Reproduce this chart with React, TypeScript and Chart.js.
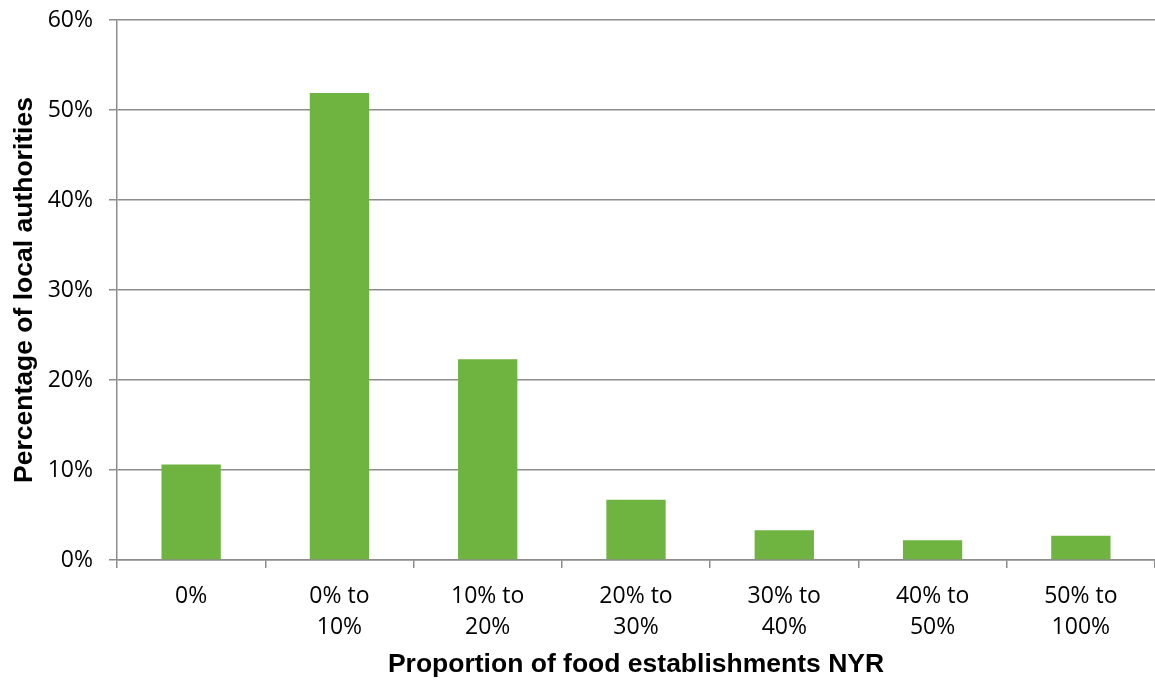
import React, { useEffect, useRef } from "react";
import { Chart, registerables } from "chart.js";

Chart.register(...registerables);

const categories: (string | string[])[] = [
  "0%",
  ["0% to", "10%"],
  ["10% to", "20%"],
  ["20% to", "30%"],
  ["30% to", "40%"],
  ["40% to", "50%"],
  ["50% to", "100%"],
];
const values = [10.6, 51.9, 22.3, 6.7, 3.3, 2.2, 2.7];
const yTicks = [0, 10, 20, 30, 40, 50, 60];
const xTitle = "Proportion of food establishments NYR";
const yTitle = "Percentage of local authorities";

export default function App() {
  const ref = useRef<HTMLCanvasElement | null>(null);
  useEffect(() => {
    if (!ref.current) return;
    const grey = "#8c8c8c";
    const tickFont = { family: "'Open Sans'", size: 23 };
    const titleFont = { family: "'Liberation Sans', Arial", size: 26.5, weight: "bold" as const };
    const chart = new Chart(ref.current, {
      type: "bar",
      data: {
        labels: categories,
        datasets: [
          {
            data: values,
            backgroundColor: "#6fb440",
            barPercentage: 0.4,
            categoryPercentage: 1,
          },
        ],
      },
      options: {
        responsive: false,
        animation: false,
        layout: { padding: { top: 20, right: 0, bottom: 0, left: 0 } },
        plugins: { legend: { display: false }, tooltip: { enabled: false } },
        scales: {
          x: {
            offset: true,
            grid: {
              offset: true,
              drawOnChartArea: false,
              drawTicks: true,
              tickLength: 8,
              color: grey,
              lineWidth: 1.5,
            },
            border: { color: grey, width: 1.5 },
            ticks: {
              color: "#000",
              font: { ...tickFont, lineHeight: 1.35 },
              padding: 13,
              maxRotation: 0,
              autoSkip: false,
            },
            title: {
              display: true,
              text: xTitle,
              color: "#000",
              font: titleFont,
              padding: { top: 0, bottom: 5 },
            },
            afterFit: (s: any) => {
              s.height = 126;
              s.paddingLeft = 0;
              s.paddingRight = 0;
            },
          },
          y: {
            min: yTicks[0],
            max: yTicks[yTicks.length - 1],
            afterBuildTicks: (s: any) => {
              s.ticks = yTicks.map((v) => ({ value: v }));
            },
            grid: { color: grey, lineWidth: 1.5, tickLength: 8 },
            border: { color: grey, width: 1.5 },
            ticks: {
              color: "#000",
              font: tickFont,
              padding: 16,
              callback: (v: any) => v + "%",
            },
            title: {
              display: true,
              text: yTitle,
              color: "#000",
              font: titleFont,
              padding: { top: 9, bottom: 0 },
            },
            afterFit: (s: any) => {
              s.width = 117;
              s.paddingTop = 0;
              s.paddingBottom = 0;
            },
          },
        },
      },
    });
    return () => chart.destroy();
  }, []);
  return (
    <div style={{ position: "absolute", left: 0, top: 0, width: 1155, height: 686 }}>
      <canvas ref={ref} width={1155} height={686} style={{ display: "block" }} />
    </div>
  );
}
